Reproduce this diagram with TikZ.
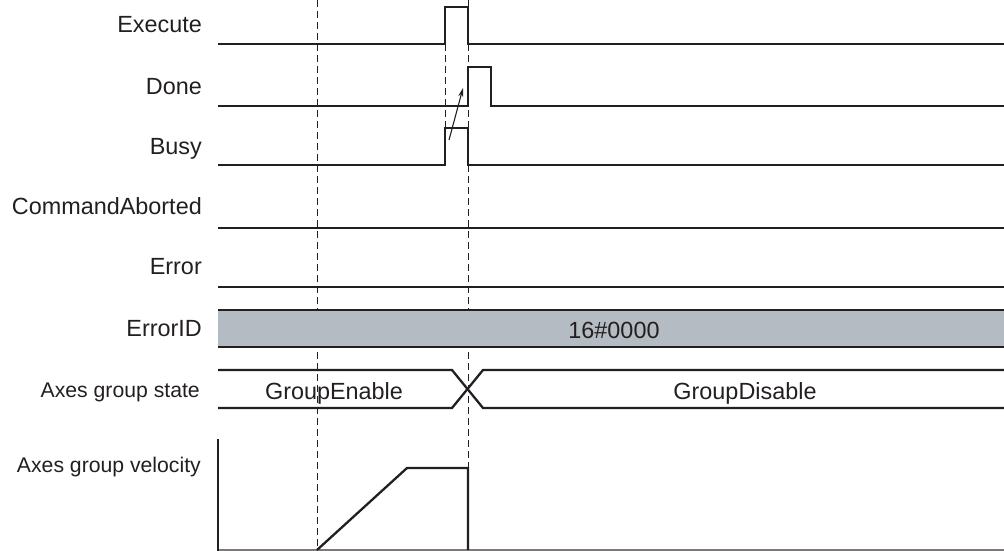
\documentclass[tikz,border=0pt]{standalone}
\usepackage{fontspec}
\setmainfont{Liberation Sans}
\usetikzlibrary{arrows.meta}
\definecolor{ink}{HTML}{231F20}
\definecolor{band}{HTML}{B4BBC2}
\tikzset{
  sig/.style={draw=ink, line width=2.3pt, line join=miter},
  guide/.style={draw=ink, line width=1pt, dash pattern=on 7pt off 4pt},
  lbl/.style={anchor=base east, inner sep=0pt, text=ink, font=\fontsize{23.4}{28}\selectfont},
  slbl/.style={anchor=base east, inner sep=0pt, text=ink, font=\fontsize{21.2}{25}\selectfont},
  val/.style={anchor=base, inner sep=0pt, text=ink, font=\fontsize{23.4}{28}\selectfont},
  cause/.style={draw=ink, line width=1.1pt, -{Stealth[length=9pt,width=5pt]}}
}
\begin{document}
\begin{tikzpicture}[x=1pt,y=-1pt]
\useasboundingbox (0,0) rectangle (1004,551);
% guide lines
\draw[guide] (317,0) -- (317,550);
\draw[guide] (468,0) -- (468,550);
\draw[guide] (445,44) -- (445,128);
% labels
\node[lbl] (lexe) at (202,33) {Execute};
\node[lbl] (ldone) at (202,94) {Done};
\node[lbl] (lbusy) at (202,154) {Busy};
\node[lbl] (lca) at (202,214) {CommandAborted};
\node[lbl] (lerr) at (202,274) {Error};
\node[lbl] (lid) at (202,336) {ErrorID};
\node[slbl] (lstate) at (200,397) {Axes group state};
\node[slbl] (lvel) at (201,472) {Axes group velocity};
% Execute
\draw[sig] (218,44) -- (445,44) -- (445,7) -- (468,7) -- (468,44) -- (1004,44);
% Done
\draw[sig] (218,106) -- (468,106) -- (468,67) -- (491,67) -- (491,106) -- (1004,106);
% Busy
\draw[sig] (218,165) -- (445,165) -- (445,128) -- (468,128) -- (468,165) -- (1004,165);
% CommandAborted, Error
\draw[sig] (218,228) -- (1004,228);
\draw[sig] (218,287) -- (1004,287);
% ErrorID band
\fill[band] (218,310) rectangle (1004,347);
\draw[sig] (218,310) -- (1004,310);
\draw[sig] (218,347) -- (1004,347);
\node[val] (idval) at (614,338) {16\#0000};
% Axes group state
\draw[sig] (218,370) -- (452,370) -- (483,408) -- (1004,408);
\draw[sig] (218,408) -- (452,408) -- (483,370) -- (1004,370);
\node[val] (gen) at (334,399) {GroupEnable};
\node[val] (gdis) at (745,399) {GroupDisable};
% Axes group velocity
\draw[draw=ink!60, line width=1.2pt] (218,550) -- (1004,550);
\draw[sig] (218,439) -- (218,551);
\draw[sig] (317,550) -- (407,468) -- (468,468) -- (468,550);
% cause arrow
\coordinate (cfrom) at (449,140);
\coordinate (cto) at (463,88);
\draw[cause] (cfrom) -- (cto);
\end{tikzpicture}
\end{document}
